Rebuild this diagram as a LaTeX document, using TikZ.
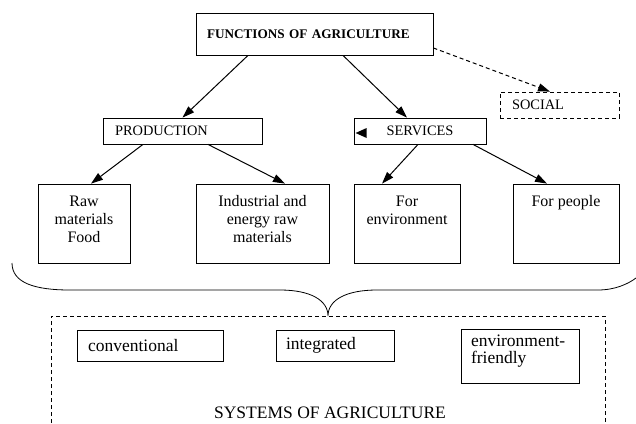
\documentclass[tikz,border=0pt]{standalone}
\usepackage{fontspec}
\setmainfont{Liberation Serif}
\usetikzlibrary{arrows.meta}
\newcommand{\cbox}[3]{\begin{minipage}[c][#2][t]{#1}\centering\rule{0pt}{22.5pt}#3\end{minipage}}
\begin{document}
\begin{tikzpicture}[x=1pt,y=-1pt,
  box/.style={draw, line width=0.8pt, inner sep=0pt},
  arr/.style={-{Triangle[length=12pt,width=8pt]}, line width=1pt},
  dsh/.style={dash pattern=on 4pt off 3pt},
  up/.style={font=\fontsize{14.4}{17}\selectfont},
  mid/.style={font=\fontsize{16}{18}\selectfont},
  low/.style={font=\fontsize{17.5}{17.5}\selectfont}]
\useasboundingbox (0,0) rectangle (636,423);
% upper part
\node[box, font=\bfseries\fontsize{13.2}{15}\selectfont, text width=215pt, align=left, inner xsep=11pt, minimum height=42pt] (top) at (314.5,34) {FUNCTIONS OF AGRICULTURE};
\node[box, dsh, up, text width=95pt, align=left, inner xsep=12pt, minimum height=26pt] (social) at (559.5,105) {SOCIAL};
\node[box, up, text width=135pt, align=left, inner xsep=12pt, minimum height=26pt] (prod) at (182.5,131) {PRODUCTION};
\node[box, up, text width=132pt, align=center, minimum height=26pt] (serv) at (420,131) {SERVICES};
\node[box, mid] (raw) at (84,223.5) {\cbox{92pt}{79pt}{Raw\\materials\\Food}};
\node[box, mid] (ind) at (262.5,223.5) {\cbox{133pt}{79pt}{Industrial and\\energy raw\\materials}};
\node[box, mid] (env) at (407,223.5) {\cbox{106pt}{79pt}{For\\environment}};
\node[box, mid] (ppl) at (566,223.5) {\cbox{106pt}{79pt}{For people}};
% arrows
\draw[arr] ([xshift=-66.5pt]top.south) -- (prod.north);
\draw[arr] ([xshift=28.5pt]top.south) -- ([xshift=-13pt]serv.north);
\draw[arr, dsh] ([yshift=-14pt]top.east) -- ([xshift=-9.5pt]social.north);
\draw[arr] ([xshift=-39.5pt]prod.south) -- ([xshift=7pt]raw.north);
\draw[arr] ([xshift=25.5pt]prod.south) -- ([xshift=22.5pt]ind.north);
\draw[arr] ([xshift=-2pt]serv.south) -- ([xshift=-25pt]env.north);
\draw[arr] ([xshift=53pt]serv.south) -- ([xshift=-19pt]ppl.north);
\fill ([shift={(2pt,-2pt)}]serv.west) -- ++(11pt,5pt) -- ++(0pt,-10pt) -- cycle;
% brace
\draw[line width=0.8pt] (12,263) .. controls (12,283) and (35,290) .. (70,290) -- (280,290)
  .. controls (310,290) and (328,300) .. (328,316)
  .. controls (328,300) and (346,290) .. (377,290) -- (598,290)
  .. controls (615,290) and (628,284) .. (636,278);
% lower part
\draw[dsh, line width=0.8pt] (51,423) -- (51,316) -- (605,316) -- (605,423);
\node[box, low, text width=124pt, align=left, inner xsep=11pt, minimum height=31pt] (conv) at (150,345.5) {conventional};
\node[box, low, text width=98pt, align=left, inner xsep=10pt, minimum height=31pt] (integ) at (335,345.5) {integrated};
\node[box, low, inner xsep=10pt, inner ysep=0pt] (envf) at (520,356) {\begin{minipage}[c][54pt][t]{98pt}\raggedright\rule{0pt}{17pt}environment-\\friendly\end{minipage}};
\node[low] (sys) at (330,413) {SYSTEMS OF AGRICULTURE};
\end{tikzpicture}
\end{document}
